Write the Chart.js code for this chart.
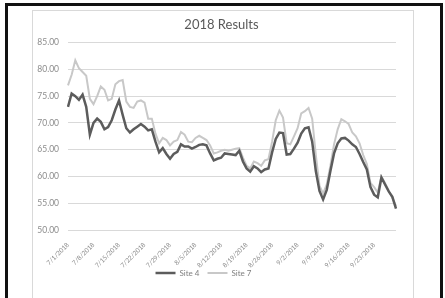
<!DOCTYPE html>
<html>
<head>
<meta charset="utf-8">
<script src="https://cdn.jsdelivr.net/npm/chart.js@4.4.1/dist/chart.umd.min.js"></script>
<style>
  body { margin: 0; background: #fff; width: 445px; height: 298px; overflow: hidden; position: relative; }
  .marco { position: absolute; left: 5px; top: 3px; width: 432px; height: 300px; border: 3px solid #111; border-bottom: none; }
  .caja { position: absolute; left: 32px; top: 10px; width: 380px; height: 300px; border: 1px solid #d9d9d9; }
  canvas { position: absolute; left: 0; top: 0; }
</style>
</head>
<body>
<div class="marco"></div>
<div class="caja"><canvas id="grafico" width="380" height="287"></canvas></div>
<script>
// dias (7/1/2018 - 9/29/2018)
const dias = [
  '7/1/2018','7/2/2018','7/3/2018','7/4/2018','7/5/2018','7/6/2018','7/7/2018','7/8/2018','7/9/2018','7/10/2018',
  '7/11/2018','7/12/2018','7/13/2018','7/14/2018','7/15/2018','7/16/2018','7/17/2018','7/18/2018','7/19/2018','7/20/2018',
  '7/21/2018','7/22/2018','7/23/2018','7/24/2018','7/25/2018','7/26/2018','7/27/2018','7/28/2018','7/29/2018','7/30/2018',
  '7/31/2018','8/1/2018','8/2/2018','8/3/2018','8/4/2018','8/5/2018','8/6/2018','8/7/2018','8/8/2018','8/9/2018',
  '8/10/2018','8/11/2018','8/12/2018','8/13/2018','8/14/2018','8/15/2018','8/16/2018','8/17/2018','8/18/2018','8/19/2018',
  '8/20/2018','8/21/2018','8/22/2018','8/23/2018','8/24/2018','8/25/2018','8/26/2018','8/27/2018','8/28/2018','8/29/2018',
  '8/30/2018','8/31/2018','9/1/2018','9/2/2018','9/3/2018','9/4/2018','9/5/2018','9/6/2018','9/7/2018','9/8/2018',
  '9/9/2018','9/10/2018','9/11/2018','9/12/2018','9/13/2018','9/14/2018','9/15/2018','9/16/2018','9/17/2018','9/18/2018',
  '9/19/2018','9/20/2018','9/21/2018','9/22/2018','9/23/2018','9/24/2018','9/25/2018','9/26/2018','9/27/2018','9/28/2018',
  '9/29/2018'
];

// etiquetas visibles del eje x
const etiquetasX = ['7/1/2018','7/8/2018','7/15/2018','7/22/2018','7/29/2018','8/5/2018','8/12/2018',
  '8/19/2018','8/26/2018','9/2/2018','9/9/2018','9/16/2018','9/23/2018'];

const site4 = [
  73.0, 75.5, 75.0, 74.3, 75.3, 73.0, 67.8, 70.0, 70.8, 70.2,
  68.8, 69.2, 70.5, 72.5, 74.2, 71.5, 69.0, 68.2, 68.8, 69.3,
  69.8, 69.3, 68.6, 68.8, 66.5, 64.5, 65.3, 64.2, 63.3, 64.2,
  64.6, 66.0, 65.6, 65.6, 65.2, 65.5, 65.9, 66.0, 65.8, 64.3,
  63.0, 63.3, 63.5, 64.3, 64.2, 64.1, 64.0, 64.8, 62.8, 61.5,
  60.9, 61.9, 61.5, 60.8, 61.3, 61.5, 64.5, 67.0, 68.2, 68.1,
  64.1, 64.2, 65.2, 66.3, 68.0, 69.0, 69.2, 66.5, 61.0, 57.3,
  55.7, 57.5, 61.0, 64.3, 66.2, 67.1, 67.2, 66.7, 66.0, 65.5,
  64.2, 62.7, 61.3, 58.0, 56.6, 56.1, 59.8, 58.5, 57.2, 56.2,
  54.0
];

const site7 = [
  77.0, 79.0, 81.7, 80.2, 79.5, 78.8, 74.5, 73.5, 75.0, 76.8,
  76.2, 74.2, 74.5, 77.2, 77.8, 78.0, 74.0, 73.0, 72.8, 74.0,
  74.2, 73.8, 70.8, 70.8, 68.0, 66.2, 67.2, 66.8, 65.8, 66.5,
  66.8, 68.3, 67.8, 66.5, 66.4, 67.2, 67.6, 67.2, 66.8, 65.8,
  64.3, 64.5, 64.8, 65.0, 64.8, 65.0, 65.2, 65.3, 63.5, 62.0,
  61.5, 62.8, 62.5, 62.0, 63.0, 63.2, 66.5, 70.5, 72.3, 71.0,
  66.2, 66.0, 67.5, 69.0, 71.8, 72.2, 72.8, 70.8, 64.0, 58.3,
  56.8, 58.5, 62.0, 66.0, 68.8, 70.7, 70.3, 69.8, 68.2, 67.5,
  66.2, 64.0, 62.3, 58.8, 58.0, 57.0, 60.0, 58.8, 57.3, 56.0,
  54.5
];

const fuente = 'Lato, "Open Sans", sans-serif';

// corrige posiciones de titulo, leyenda y el recorte de las etiquetas x
const ajustes = {
  id: 'ajustes',
  afterLayout(chart) {
    chart.scales.x.bottom = chart.height;
    chart.legend.left -= 11;
    chart.legend.right -= 11;
    chart.titleBlock.left += 7;
    chart.titleBlock.right += 7;
  }
};

new Chart(document.getElementById('grafico').getContext('2d'), {
  type: 'line',
  data: {
    labels: dias,
    datasets: [
      { label: 'Site 4', data: site4, borderColor: '#5c5c5c', backgroundColor: '#5c5c5c', borderWidth: 2.5, pointRadius: 0, tension: 0 },
      { label: 'Site 7', data: site7, borderColor: '#c8c8c8', backgroundColor: '#c8c8c8', borderWidth: 2, pointRadius: 0, tension: 0 }
    ]
  },
  options: {
    responsive: false,
    animation: false,
    layout: { padding: { left: 0, right: 17, top: 0, bottom: 11 } },
    plugins: {
      title: { display: true, text: '2018 Results', color: '#595959', font: { family: fuente, size: 13, weight: 'normal' }, padding: { top: 6, bottom: 10 } },
      legend: {
        position: 'bottom',
        labels: { usePointStyle: true, pointStyle: 'line', pointStyleWidth: 20, color: '#7f7f7f', font: { family: fuente, size: 8 }, padding: 8 }
      },
      tooltip: { enabled: false }
    },
    scales: {
      x: {
        offset: false,
        grid: { display: false },
        border: { display: false },
        ticks: {
          autoSkip: false, maxRotation: 45, minRotation: 45, padding: 3,
          color: '#8c8c8c', font: { family: fuente, size: 6.5 },
          callback: function(v, i) { return etiquetasX.includes(dias[i]) ? dias[i] : null; }
        },
        afterFit: function(s) { s.height = 31; }
      },
      y: {
        min: 50, max: 85,
        ticks: { stepSize: 5, padding: 9, color: '#8c8c8c', font: { family: fuente, size: 8.5 }, callback: v => v.toFixed(2) },
        grid: { color: '#d9d9d9', drawTicks: false },
        border: { display: false },
        afterFit: function(s) { s.width = 35; }
      }
    }
  },
  plugins: [ajustes]
});
</script>
</body>
</html>
